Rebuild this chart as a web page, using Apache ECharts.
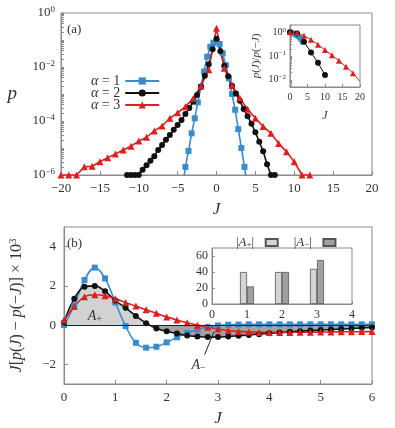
<!DOCTYPE html>
<html>
<head>
<meta charset="utf-8">
<script src="https://cdn.jsdelivr.net/npm/echarts@6/dist/echarts.min.js"></script>
<style>html,body{margin:0;padding:0;background:#fff}#chart{width:395px;height:428px}</style>
</head>
<body>
<div id="chart"></div>
<script>
// (a) probability p(J), log scale
const blueJ = [-4.4, -4.0, -3.6, -3.2, -2.8, -2.4, -2.0, -1.6, -1.2, -0.8, -0.4, 0, 0.4, 0.8, 1.2, 1.6, 2.0, 2.4, 2.8, 3.2, 3.6, 4.0];
const blueP = [3e-7, 2.0e-6, 7.8e-6, 3.5e-5, 1.26e-4, 4.9e-4, 1.86e-3, 6.8e-3, 2.4e-2, 5.6e-2, 7.9e-2, 8.9e-2, 7.1e-2, 3.2e-2, 1.17e-2, 3.8e-3, 1.0e-3, 2.6e-4, 5.0e-5, 1.0e-5, 2.0e-6, 3e-7];

const blackJ = [-11.5, -11, -10.5, -10, -9.5, -9, -8.5, -8, -7.5, -7, -6.5, -6, -5.5, -5, -4.5, -4, -3.5, -3, -2.5, -2, -1.5, -1, -0.5, 0,
  0.5, 1, 1.5, 2, 2.5, 3, 3.5, 4, 4.5, 5, 5.5, 6, 6.5, 7, 7.5];
const blackP = [1e-6, 1e-6, 1e-6, 1e-6, 1.55e-6, 2.3e-6, 3.4e-6, 5.0e-6, 8.5e-6, 1.29e-5, 2.0e-5, 3.0e-5, 4.7e-5, 7.1e-5, 1.1e-4, 1.8e-4, 3.0e-4, 5.2e-4, 9.1e-4, 1.86e-3, 4.7e-3, 1.26e-2, 4.5e-2, 1.12e-1,
  3.8e-2, 1.12e-2, 4.5e-3, 2.0e-3, 1.05e-3, 5.6e-4, 2.8e-4, 1.51e-4, 7.9e-5, 3.8e-5, 1.7e-5, 7.6e-6, 2.5e-6, 1e-6, 1e-6];

const redJ = [-20, -19, -18, -17, -16, -15, -14, -13, -12, -11, -10, -9, -8, -7, -6, -5, -4, -3, -2, -1, 0,
  1, 2, 3, 4, 5, 6, 7, 8, 9, 10, 11, 12];
const redP = [1e-6, 1e-6, 1e-6, 2.0e-6, 2.1e-6, 3.1e-6, 4.4e-6, 6.0e-6, 8.5e-6, 1.17e-5, 1.8e-5, 2.5e-5, 4.3e-5, 6.5e-5, 1.26e-4, 2.0e-4, 3.4e-4, 6.8e-4, 2.0e-3, 7.9e-3, 2.7e-1,
  8.9e-3, 2.1e-3, 7.1e-4, 2.7e-4, 1.26e-4, 6.3e-5, 3.5e-5, 1.48e-5, 7.2e-6, 3.1e-6, 1e-6, 1e-6];

// (a) inset: p(J)/p(-J)
const ratioBlueJ = [0, 0.4, 0.8, 1.2, 1.6, 2.0, 2.4, 2.8, 3.2, 3.6];
const ratioBlue = [1.0, 0.966, 0.923, 0.861, 0.794, 0.724, 0.661, 0.575, 0.479, 0.38];
const ratioBlackJ = [0, 2, 4, 6, 8, 10];
const ratioBlack = [1.0, 0.87, 0.40, 0.14, 0.052, 0.016];
const ratioRedJ = [0, 2, 4, 6, 8, 10, 12, 14, 16, 18, 20];
const ratioRed = [1.0, 0.93, 0.71, 0.48, 0.30, 0.178, 0.107, 0.063, 0.035, 0.019, 0.0085];

// (b) J[p(J) - p(-J)] x 10^3
const bJ = [0, 0.2, 0.4, 0.6, 0.8, 1.0, 1.2, 1.4, 1.6, 1.8, 2.0, 2.2, 2.4, 2.6, 2.8, 3.0, 3.2, 3.4, 3.6, 3.8, 4.0,
  4.2, 4.4, 4.6, 4.8, 5.0, 5.2, 5.4, 5.6, 5.8, 6.0];
const bBlue = [0, 1.0, 2.3, 2.93, 2.38, 1.15, -0.05, -0.9, -1.15, -1.1, -0.88, -0.62, -0.4, -0.22, -0.1, -0.02, 0.02, 0.03, 0.04, 0.04, 0.04,
  0.04, 0.04, 0.04, 0.04, 0.04, 0.04, 0.04, 0.04, 0.04, 0.04];
const bBlack = [0.15, 1.35, 1.95, 2.0, 1.72, 1.25, 0.88, 0.47, 0.1, -0.17, -0.31, -0.43, -0.53, -0.58, -0.61, -0.61, -0.58, -0.54, -0.5, -0.46, -0.42,
  -0.38, -0.34, -0.31, -0.28, -0.25, -0.22, -0.2, -0.17, -0.14, -0.12];
const bRed = [0.25, 0.95, 1.45, 1.55, 1.5, 1.35, 1.15, 0.97, 0.78, 0.6, 0.42, 0.26, 0.12, 0.0, -0.1, -0.2, -0.27, -0.32, -0.35, -0.37, -0.37,
  -0.37, -0.37, -0.36, -0.36, -0.35, -0.35, -0.34, -0.34, -0.33, -0.33];

// (b) inset: |A+| and |A-|
const alphas = [1, 2, 3];
const areaPlus = [40, 40, 44];
const areaMinus = [22, 40, 55];

const SERIF = '"Liberation Serif", "DejaVu Serif", serif';
const FRAME = '#8a8a8a';
const TXT = '#333';
const BLUE = '#3a8ccd', BLACK = '#111', RED = '#dd1f1f';

function pairs(xs, ys) { return xs.map((x, i) => [x, ys[i]]); }
function minus(v) { return String(v).replace('-', '−'); }
function pow10(v) {
    const e = Math.round(Math.log10(v));
    return '{b|10}{s|' + minus(e) + '}';
}

// tick positions for log axes: every 1..9 inside each decade
function logTicks(lo, hi) {
    const out = [];
    for (let d = lo; d < hi; d++) {
        for (let k = 1; k <= 9; k++) out.push(k * Math.pow(10, d));
    }
    out.push(Math.pow(10, hi));
    return out;
}

const tickStyle = (len) => ({ inside: true, length: len, lineStyle: { color: FRAME, width: 1 } });
const lineAx = { onZero: false, lineStyle: { color: FRAME, width: 1 } };
const supRich = (size) => ({
    b: { fontFamily: SERIF, fontSize: size, color: TXT },
    s: { fontFamily: SERIF, fontSize: Math.round(size * 0.68), color: TXT, verticalAlign: 'top', padding: [0, 0, Math.round(size * 0.45), 0] },
});

// one legend box per alpha so rows sit close together
function alphaLegend(name, top) {
    return {
        data: [name], left: 86, top: top, align: 'right',
        itemWidth: 34, itemHeight: 9,
        formatter: (n) => '{i|α} = ' + n.slice(1),
        textStyle: {
            fontFamily: SERIF, fontSize: 14, color: TXT,
            rich: { i: { fontFamily: SERIF, fontStyle: 'italic', fontSize: 14, color: TXT } },
        },
    };
}

const chart = echarts.init(document.getElementById('chart'));

const option = {
    animation: false,
    grid: [
        { left: 61, top: 13, width: 311, height: 162, show: true, borderColor: FRAME, borderWidth: 1 },
        { left: 290, top: 25, width: 70, height: 62, show: true, borderColor: FRAME, borderWidth: 1 },
        { left: 61, top: 227, width: 311, height: 162, show: true, borderColor: FRAME, borderWidth: 1 },
        { left: 212, top: 248, width: 140, height: 56, show: true, borderColor: FRAME, borderWidth: 1 },
    ],
    xAxis: [
        {
            gridIndex: 0, type: 'value', min: -20, max: 20, interval: 5,
            axisLine: lineAx, axisTick: tickStyle(4), splitLine: { show: false },
            axisLabel: { fontFamily: SERIF, fontSize: 13, color: TXT, margin: 7, formatter: minus },
            name: 'J', nameLocation: 'middle', nameGap: 26,
            nameTextStyle: { fontFamily: SERIF, fontStyle: 'italic', fontSize: 17, color: TXT },
        },
        {
            gridIndex: 1, type: 'value', min: 0, max: 20, interval: 5,
            axisLine: lineAx, axisTick: tickStyle(3), splitLine: { show: false },
            axisLabel: { fontFamily: SERIF, fontSize: 10, color: TXT, margin: 5 },
            name: 'J', nameLocation: 'middle', nameGap: 23,
            nameTextStyle: { fontFamily: SERIF, fontStyle: 'italic', fontSize: 12, color: TXT },
        },
        {
            gridIndex: 2, type: 'value', min: 0, max: 6, interval: 1,
            axisLine: lineAx, axisTick: tickStyle(4), splitLine: { show: false },
            axisLabel: { fontFamily: SERIF, fontSize: 13, color: TXT, margin: 7 },
            name: 'J', nameLocation: 'middle', nameGap: 26,
            nameTextStyle: { fontFamily: SERIF, fontStyle: 'italic', fontSize: 17, color: TXT },
        },
        {
            gridIndex: 3, type: 'value', min: 0, max: 4, interval: 1,
            axisLine: lineAx, axisTick: tickStyle(3), splitLine: { show: false },
            axisLabel: { fontFamily: SERIF, fontSize: 12, color: TXT, margin: 5 },
        },
    ],
    yAxis: [
        {
            gridIndex: 0, type: 'log', logBase: 10, min: 1e-6, max: 1,
            axisLine: lineAx, axisTick: Object.assign(tickStyle(3), { customValues: logTicks(-6, 0) }),
            splitLine: { show: false },
            axisLabel: { customValues: [1e-6, 1e-4, 1e-2, 1], formatter: pow10, rich: supRich(13), margin: 6 },
            name: 'p', nameLocation: 'middle', nameRotate: 0, nameGap: 44,
            nameTextStyle: { fontFamily: SERIF, fontStyle: 'italic', fontSize: 19, color: TXT },
        },
        {
            gridIndex: 1, type: 'log', logBase: 10, min: 0.005, max: 2,
            axisLine: lineAx,
            axisTick: Object.assign(tickStyle(2), { customValues: [0.006, 0.007, 0.008, 0.009].concat(logTicks(-2, 0), [2]) }),
            splitLine: { show: false },
            axisLabel: { customValues: [0.01, 0.1, 1], formatter: pow10, rich: supRich(10), margin: 4 },
            name: '{i|p}({i|J})/{i|p}(−{i|J})', nameLocation: 'middle', nameGap: 28,
            nameTextStyle: {
                fontFamily: SERIF, fontSize: 11, color: TXT,
                rich: { i: { fontFamily: SERIF, fontStyle: 'italic', fontSize: 11, color: TXT } },
            },
        },
        {
            gridIndex: 2, type: 'value', min: -3, max: 5,
            axisLine: lineAx, axisTick: Object.assign(tickStyle(4), { customValues: [-2, 0, 2, 4] }),
            splitLine: { show: false },
            axisLabel: { customValues: [-2, 0, 2, 4], fontFamily: SERIF, fontSize: 13, color: TXT, margin: 8, formatter: minus },
            name: '{i|J}[{i|p}({i|J}) − {i|p}(−{i|J})] × 10{s|3}', nameLocation: 'middle', nameGap: 38,
            nameTextStyle: {
                fontFamily: SERIF, fontSize: 16, color: TXT,
                rich: {
                    i: { fontFamily: SERIF, fontStyle: 'italic', fontSize: 16, color: TXT },
                    s: { fontFamily: SERIF, fontSize: 11, color: TXT, verticalAlign: 'top', padding: [0, 0, 7, 0] },
                },
            },
        },
        {
            gridIndex: 3, type: 'value', min: 0, max: 70,
            axisLine: lineAx, axisTick: Object.assign(tickStyle(3), { customValues: [0, 20, 40, 60] }),
            splitLine: { show: false },
            axisLabel: { customValues: [0, 20, 40, 60], fontFamily: SERIF, fontSize: 12, color: TXT, margin: 4 },
        },
    ],
    legend: [
        alphaLegend('a1', 69),
        alphaLegend('a2', 81),
        alphaLegend('a3', 93),
        {
            data: ['Ap', 'Am'], orient: 'horizontal', left: 231, top: 231, align: 'right',
            itemWidth: 12, itemHeight: 7, itemGap: 15, icon: 'rect',
            formatter: (n) => '|{i|A}{sub|' + (n === 'Ap' ? '+' : '−') + '}|  ',
            textStyle: {
                fontFamily: SERIF, fontSize: 13, color: TXT,
                rich: {
                    i: { fontFamily: SERIF, fontStyle: 'italic', fontSize: 13, color: TXT },
                    sub: { fontFamily: SERIF, fontSize: 9, color: TXT, verticalAlign: 'bottom', padding: [5, 0, 0, 0] },
                },
            },
        },
    ],
    graphic: [
        { type: 'text', left: 67, top: 23, style: { text: '(a)', font: '13px ' + SERIF, fill: TXT } },
        { type: 'text', left: 67, top: 237, style: { text: '(b)', font: '13px ' + SERIF, fill: TXT } },
    ],
    series: [
        // panel (a)
        { name: 'a1', type: 'line', xAxisIndex: 0, yAxisIndex: 0, data: pairs(blueJ, blueP),
          symbol: 'rect', symbolSize: 6, color: BLUE, lineStyle: { width: 1.6 } },
        { name: 'a2', type: 'line', xAxisIndex: 0, yAxisIndex: 0, data: pairs(blackJ, blackP),
          symbol: 'circle', symbolSize: 6, color: BLACK, lineStyle: { width: 1.6 } },
        { name: 'a3', type: 'line', xAxisIndex: 0, yAxisIndex: 0, data: pairs(redJ, redP),
          symbol: 'triangle', symbolSize: 7, color: RED, lineStyle: { width: 1.6 } },
        // inset (a)
        { name: 'r1', type: 'line', xAxisIndex: 1, yAxisIndex: 1, data: pairs(ratioBlueJ, ratioBlue),
          symbol: 'rect', symbolSize: 5, color: BLUE, lineStyle: { width: 1 } },
        { name: 'r2', type: 'line', xAxisIndex: 1, yAxisIndex: 1, data: pairs(ratioBlackJ, ratioBlack),
          symbol: 'circle', symbolSize: 6, color: BLACK, lineStyle: { width: 1 } },
        { name: 'r3', type: 'line', xAxisIndex: 1, yAxisIndex: 1,
          data: pairs(ratioRedJ, ratioRed).map((d, i) => i === ratioRedJ.length - 1 ? { value: d, symbol: 'none' } : d),
          symbol: 'triangle', symbolSize: 6, color: RED, lineStyle: { width: 1 } },
        // panel (b): shaded areas under alpha = 2
        { name: 'fillPlus', type: 'line', xAxisIndex: 2, yAxisIndex: 2, smooth: 0.4, symbol: 'none', silent: true,
          data: pairs(bJ, bBlack.map((v) => Math.max(v, 0))),
          lineStyle: { opacity: 0 }, areaStyle: { color: '#d2d2d2', opacity: 1 }, z: 1 },
        { name: 'fillMinus', type: 'line', xAxisIndex: 2, yAxisIndex: 2, smooth: 0.4, symbol: 'none', silent: true,
          data: pairs(bJ, bBlack.map((v) => Math.min(v, 0))),
          lineStyle: { opacity: 0 }, areaStyle: { color: '#a3a3a3', opacity: 1 }, z: 1,
          markLine: {
              silent: true, symbol: ['none', 'none'], label: { show: false },
              lineStyle: { color: '#222', width: 1, type: 'solid' },
              data: [
                  { yAxis: 0 },
                  [{ coord: [2.74, -1.5] }, { coord: [2.92, -0.35] }],
              ],
          },
          markPoint: {
              silent: true, symbol: 'circle', symbolSize: 0,
              label: {
                  show: true, position: 'inside', fontFamily: SERIF, fontSize: 14, color: TXT,
                  rich: {
                      i: { fontFamily: SERIF, fontStyle: 'italic', fontSize: 14, color: TXT },
                      sub: { fontFamily: SERIF, fontSize: 10, color: TXT, verticalAlign: 'bottom', padding: [6, 0, 0, 0] },
                  },
              },
              data: [
                  { coord: [0.6, 0.45], label: { formatter: '{i|A}{sub|+}' } },
                  { coord: [2.62, -2.05], label: { formatter: '{i|A}{sub|−}' } },
              ],
          } },
        { name: 'b1', type: 'line', xAxisIndex: 2, yAxisIndex: 2, data: pairs(bJ, bBlue), smooth: 0.4,
          symbol: 'rect', symbolSize: 6, color: BLUE, lineStyle: { width: 1.6 }, z: 3 },
        { name: 'b2', type: 'line', xAxisIndex: 2, yAxisIndex: 2, data: pairs(bJ, bBlack), smooth: 0.4,
          symbol: 'circle', symbolSize: 6, color: BLACK, lineStyle: { width: 1.6 }, z: 3 },
        { name: 'b3', type: 'line', xAxisIndex: 2, yAxisIndex: 2, data: pairs(bJ, bRed), smooth: 0.4,
          symbol: 'triangle', symbolSize: 7, color: RED, lineStyle: { width: 1.6 }, z: 3 },
        // inset (b)
        { name: 'Ap', type: 'bar', xAxisIndex: 3, yAxisIndex: 3, data: pairs(alphas, areaPlus),
          barWidth: 7, barGap: '0%', itemStyle: { color: '#d4d4d4', borderColor: '#555', borderWidth: 0.8 } },
        { name: 'Am', type: 'bar', xAxisIndex: 3, yAxisIndex: 3, data: pairs(alphas, areaMinus),
          barWidth: 7, barGap: '0%', itemStyle: { color: '#a0a0a0', borderColor: '#555', borderWidth: 0.8 } },
    ],
};

chart.setOption(option);
</script>
</body>
</html>
